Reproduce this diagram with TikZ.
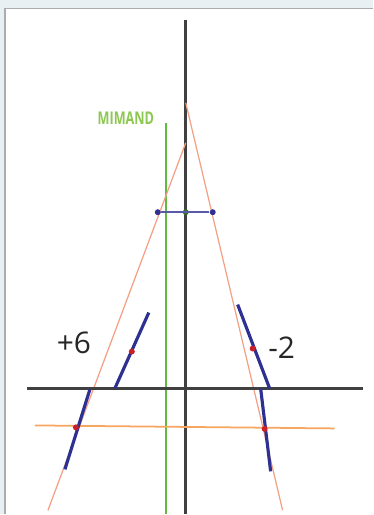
\documentclass[tikz,border=0pt]{standalone}
\usepackage{fontspec}
\setmainfont{Open Sans}
\usetikzlibrary{calc}
\definecolor{frame}{HTML}{E8F0F4}
\definecolor{rim}{HTML}{A9ADB0}
\definecolor{axisgray}{HTML}{404040}
\definecolor{ray}{HTML}{F4A084}
\definecolor{base}{HTML}{F7A660}
\definecolor{lens}{HTML}{2E3192}
\definecolor{midgreen}{HTML}{5DBB3F}
\definecolor{labelgreen}{HTML}{8CC850}
\definecolor{spot}{HTML}{C8202A}

\tikzset{
  rayline/.style={ray,line width=0.7pt},
  lensline/.style={lens,line width=1.8pt},
  spotdot/.style={circle,fill=spot,inner sep=0pt,minimum size=3.4pt},
  enddot/.style={circle,fill=lens,inner sep=0pt,minimum size=3.4pt}
}

\begin{document}
\begin{tikzpicture}[x=0.02cm,y=-0.02cm]
% frame
\fill[frame] (0,0) rectangle (373,515);
\fill[white] (5,8.5) rectangle (373,515);
\draw[rim,line width=0.8pt] (5,515) -- (5,8.5) -- (373,8.5);
\useasboundingbox (0,0) rectangle (373,515);

% named points
\coordinate (axtop) at (186,20);
\coordinate (axbot) at (186,515);
\coordinate (midtop) at (166,123);
\coordinate (midbot) at (166,515);
\coordinate (hl) at (27,389);
\coordinate (hr) at (363,389);
\coordinate (bl) at (35,426);
\coordinate (br) at (335,429);
\coordinate (lrayA) at (48,511);
\coordinate (lrayB) at (186,143);
\coordinate (rrayA) at (186,103);
\coordinate (rrayB) at (283,511);

% axes and rays
\draw[axisgray,line width=1.5pt] (axtop) -- (axbot);
\draw[midgreen,line width=1pt] (midtop) -- (midbot);
\node[text=labelgreen,font=\bfseries\fontsize{10}{11}\selectfont,inner sep=0pt] (mimand) at (126,118.5) {\scalebox{0.72}[1]{MIMAND}};
\draw[rayline] (lrayA) -- (lrayB);
\draw[rayline] (rrayA) -- (rrayB);
\draw[base,line width=1pt] (bl) -- (br);
\draw[axisgray,line width=1.3pt] (hl) -- (hr);

% blue cross piece
\node[enddot] (cl) at (158,212.5) {};
\node[enddot] (cr) at (213,212.5) {};
\node[circle,fill=midgreen!60!black,inner sep=0pt,minimum size=3.4pt] (cm) at (186,212.5) {};
\draw[lens!80!white,line width=1pt] (cl) -- (cr);

% left lenses
\coordinate (l1a) at (115,389);
\coordinate (l1b) at (149,313);
\coordinate (l2a) at (90,390);
\coordinate (l2b) at (65,470);
\draw[lensline] (l1a) -- (l1b);
\draw[lensline] (l2a) -- (l2b);
\node[spotdot] (p1) at (132,352) {};
\node[spotdot] (p2) at (76,428) {};
\node[font=\fontsize{17}{19}\selectfont,text=black!85] (plus) at (74,343) {+6};

% right lenses
\coordinate (r1a) at (238,305);
\coordinate (r1b) at (270,389);
\coordinate (r2a) at (261,389);
\coordinate (r2b) at (271,472);
\draw[lensline] (r1a) -- (r1b);
\draw[lensline] (r2a) -- (r2b);
\node[spotdot] (q1) at (253,349) {};
\node[spotdot] (q2) at (265,429.5) {};
\node[font=\fontsize{17}{19}\selectfont,text=black!85] (minus) at (282,348) {-2};
\end{tikzpicture}
\end{document}
